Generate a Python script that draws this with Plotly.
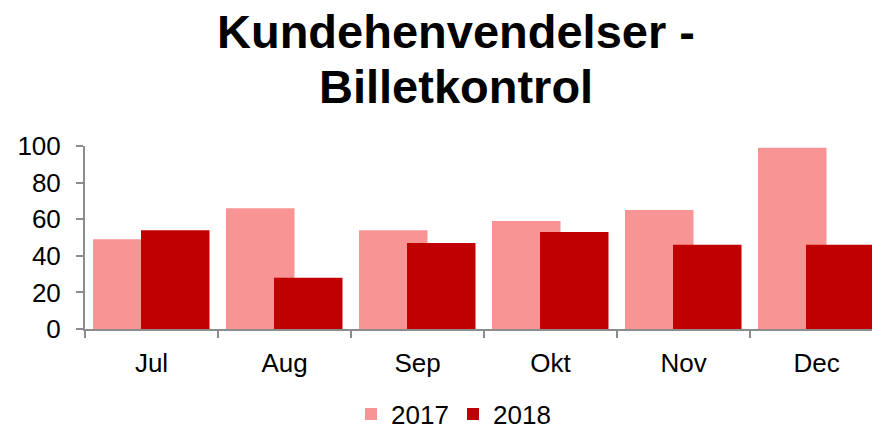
import plotly.graph_objects as go

months = ["Jul", "Aug", "Sep", "Okt", "Nov", "Dec"]
values_2017 = [49, 66, 54, 59, 65, 99]
values_2018 = [54, 28, 47, 53, 46, 46]
title_lines = ["Kundehenvendelser -", "Billetkontrol"]

fig = go.Figure()
fig.add_trace(go.Bar(x=months, y=values_2017, name="2017",
                     marker=dict(color="#F89494", line=dict(width=0)),
                     width=0.515, offset=-0.44))
fig.add_trace(go.Bar(x=months, y=values_2018, name="2018",
                     marker=dict(color="#C00000", line=dict(width=0)),
                     width=0.515, offset=-0.079))

font = "Liberation Sans, Arial, sans-serif"
plot_top, plot_bottom = 146, 329
ph = plot_bottom - plot_top

for line, cy in zip(title_lines, [31, 86]):
    fig.add_annotation(text="<b>" + line + "</b>",
                       xref="paper", yref="paper", x=(456 - 85) / 787,
                       y=(plot_bottom - cy) / ph, xanchor="center", yanchor="middle",
                       showarrow=False, align="center",
                       font=dict(family=font, size=47, color="black"))

fig.update_layout(
    width=872, height=427,
    barmode="overlay",
    paper_bgcolor="white", plot_bgcolor="white",
    margin=dict(l=85, r=0, t=plot_top, b=427 - plot_bottom, autoexpand=False),
    font=dict(family=font, size=26, color="black"),
    showlegend=True,
    legend=dict(orientation="h", x=(453 - 85) / 787, xanchor="center",
                yref="container", y=1 - 414 / 427, yanchor="middle",
                font=dict(family=font, size=26), traceorder="normal",
                itemwidth=30, entrywidth=57, entrywidthmode="pixels"),
    xaxis=dict(range=[-0.5, 5.417], showgrid=False, showline=True,
               linecolor="#8C8C8C", linewidth=2, ticks="outside",
               tickson="boundaries", ticklen=7, tickcolor="#8C8C8C", tickwidth=2,
               tickfont=dict(size=26), ticklabelstandoff=10, automargin=False),
    yaxis=dict(range=[0, 100], dtick=20, showgrid=False, showline=True,
               linecolor="#8C8C8C", linewidth=2, ticks="outside", ticklen=7,
               tickcolor="#8C8C8C", tickwidth=2, zeroline=False,
               tickfont=dict(size=26), ticklabelstandoff=10, automargin=False),
)

fig.write_html("out.html", config={"displayModeBar": False},
               post_script="document.body.style.margin='0';")
